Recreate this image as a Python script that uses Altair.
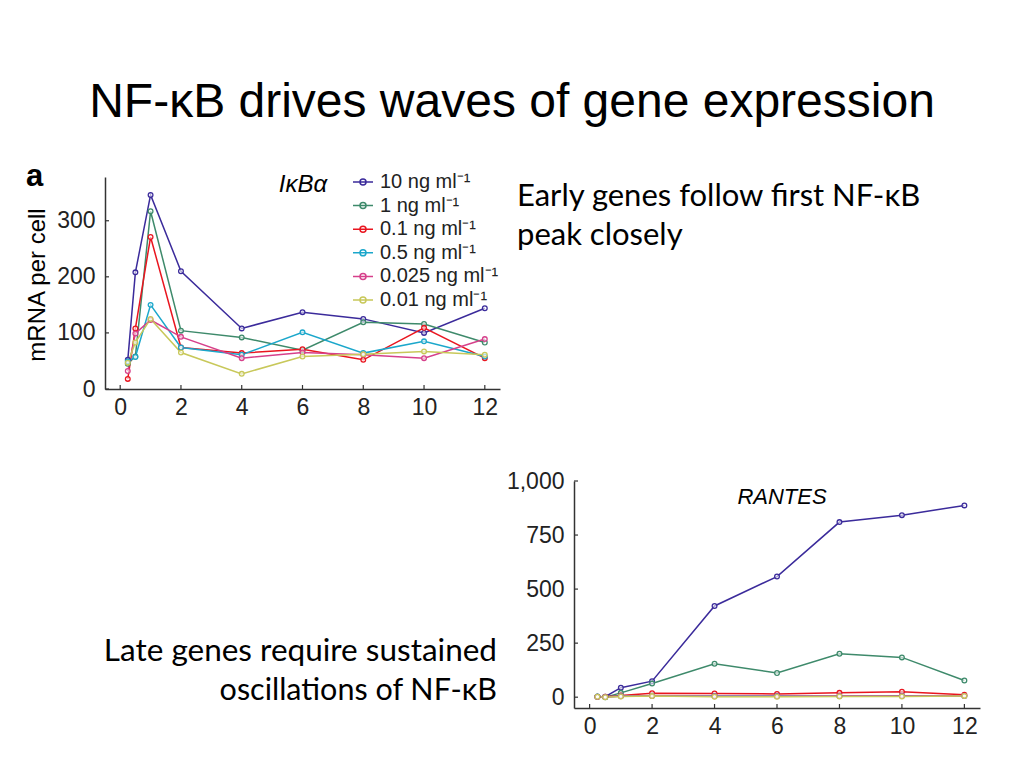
import altair as alt
import pandas as pd

# ---------------- data ----------------
times = [0.25, 0.5, 1, 2, 4, 6, 8, 10, 12]
doses = ["10 ng ml⁻¹", "1 ng ml⁻¹", "0.1 ng ml⁻¹", "0.5 ng ml⁻¹", "0.025 ng ml⁻¹", "0.01 ng ml⁻¹"]
colors = ["#3b2b9b", "#3e8a6b", "#e9151f", "#1ba7cb", "#d6408b", "#c8c85a"]

# IkBa (mRNA per cell)
ikba_10 = [52, 208, 346, 210, 108, 137, 125, 100, 144]
ikba_1 = [45, 58, 317, 104, 92, 69, 119, 116, 83]
ikba_01 = [18, 108, 271, 74, 64, 71, 52, 109, 55]
ikba_05 = [49, 57, 150, 74, 61, 101, 64, 85, 58]
ikba_0025 = [32, 99, 123, 93, 55, 65, 61, 55, 89]
ikba_001 = [47, 83, 125, 65, 27, 58, 62, 67, 61]

# RANTES
rantes_10 = [2, 2, 44, 74, 422, 558, 810, 842, 887]
rantes_1 = [2, 0, 20, 63, 155, 112, 201, 184, 77]
rantes_01 = [2, 2, 8, 18, 17, 15, 20, 25, 11]
rantes_05 = [3, 1, 5, 7, 6, 5, 6, 7, 6]
rantes_0025 = [2, 1, 4, 5, 4, 4, 5, 5, 5]
rantes_001 = [2, 0, 3, 5, 2, 2, 3, 3, 6]

top_x_ticks = [0, 2, 4, 6, 8, 10, 12]
top_y_ticks = [0, 100, 200, 300]
bot_y_ticks = [0, 250, 500, 750, 1000]

title_text = "NF-κB drives waves of gene expression"
early_text = ["Early genes follow first NF-κB", "peak closely"]
late_text = ["Late genes require sustained", "oscillations of NF-κB"]


def long_frame(series):
    rows = []
    for dose, vals in zip(doses, series):
        for t, v in zip(times, vals):
            rows.append({"time": t, "value": v, "dose": dose})
    return pd.DataFrame(rows)


ikba_df = long_frame([ikba_10, ikba_1, ikba_01, ikba_05, ikba_0025, ikba_001])
rantes_df = long_frame([rantes_10, rantes_1, rantes_01, rantes_05, rantes_0025, rantes_001])

FONT = "Liberation Sans"
AX_COLOR = "#333333"
LBL_COLOR = "#222222"

color_enc = alt.Color(
    "dose:N",
    sort=doses,
    scale=alt.Scale(domain=doses, range=colors),
    legend=alt.Legend(
        title=None, orient="none", legendX=344, legendY=163,
        symbolType="M-1,0L1,0M-0.3,0A0.3,0.3,0,1,1,0.3,0A0.3,0.3,0,1,1,-0.3,0",
        symbolSize=400, symbolStrokeWidth=1.5, symbolFillColor="transparent",
        labelFont=FONT, labelFontSize=20, labelColor=LBL_COLOR,
        labelOffset=6, rowPadding=2.6, labelLimit=300,
    ),
)


def panel(df, x_range, y_domain, y_range, y_values, x_axis_y, y_axis_x, y_fmt):
    xs = alt.Scale(domain=[-0.5, 12.5], range=x_range, nice=False, zero=False)
    ys = alt.Scale(domain=y_domain, range=y_range, nice=False, zero=False)
    x_axis = alt.Axis(orient="bottom", offset=x_axis_y - 752, values=top_x_ticks, title=None,
                      ticks=False, labelFont=FONT, labelFontSize=23, labelColor=LBL_COLOR,
                      labelPadding=7, domainColor=AX_COLOR, domainWidth=1.5, grid=False)
    y_axis = alt.Axis(orient="left", offset=-y_axis_x, values=y_values, title=None, format=y_fmt,
                      ticks=False, labelFont=FONT, labelFontSize=23, labelColor=LBL_COLOR,
                      labelPadding=10, domainColor=AX_COLOR, domainWidth=1.5, grid=False)
    base = alt.Chart(df).encode(
        x=alt.X("time:Q", scale=xs, axis=x_axis),
        y=alt.Y("value:Q", scale=ys, axis=y_axis),
        color=color_enc,
        detail="dose:N",
    )
    line = base.mark_line(strokeWidth=1.5)
    pts = base.mark_point(shape="circle", filled=False, fill="white", fillOpacity=0.6,
                          size=22, strokeWidth=1.3)
    xt = alt.Chart(pd.DataFrame({"t": top_x_ticks})).mark_rule(color=AX_COLOR, strokeWidth=1.2).encode(
        x=alt.X("t:Q", scale=xs, axis=x_axis),
        y=alt.value(x_axis_y), y2=alt.value(x_axis_y - 4))
    yt = alt.Chart(pd.DataFrame({"v": y_values})).mark_rule(color=AX_COLOR, strokeWidth=1.2).encode(
        y=alt.Y("v:Q", scale=ys, axis=y_axis),
        x=alt.value(y_axis_x), x2=alt.value(y_axis_x + 4))
    return alt.layer(line, pts, xt, yt)


top = panel(ikba_df, [97, 492], [0, 378], [381, 169], top_y_ticks, 381, 97, "d")
bottom = panel(rantes_df, [566, 972], [-50, 1000], [700, 473], bot_y_ticks, 700, 566, ",.0f")


def txt(text, x, y, size, font="Liberation Sans", align="left", baseline="alphabetic",
        style="normal", weight="normal", angle=0):
    kw = dict(align=align, baseline=baseline, font=font, fontSize=size, fontStyle=style,
              fontWeight=weight, color="#000000", angle=angle)
    return alt.Chart(pd.DataFrame({"t": [text]})).mark_text(**kw).encode(
        x=alt.value(x), y=alt.value(y), text="t:N")


texts = [
    txt(title_text, 504, 109, 48, align="center"),
    txt(early_text[0], 509, 198, 31, font="Lato"),
    txt(early_text[1], 509, 237, 31, font="Lato"),
    txt(late_text[0], 489, 653, 31.5, font="Lato", align="right"),
    txt(late_text[1], 489, 692, 30.5, font="Lato", align="right"),
    txt("a", 18, 178, 31, weight="bold"),
    txt("mRNA per cell", 30, 277, 24, align="center", baseline="middle", angle=270),
    txt("IκBα", 295, 177, 24, align="center", baseline="middle", style="italic"),
    txt("RANTES", 774, 489, 22, align="center", baseline="middle", style="italic"),
]

chart = alt.layer(top, bottom, *texts).resolve_scale(
    x="independent", y="independent"
).properties(
    width=1008, height=752, padding=0,
    autosize=alt.AutoSizeParams(type="none"),
).configure(background="white").configure_view(stroke=None)

chart.save("out.html", embed_options={"renderer": "svg", "actions": False})
